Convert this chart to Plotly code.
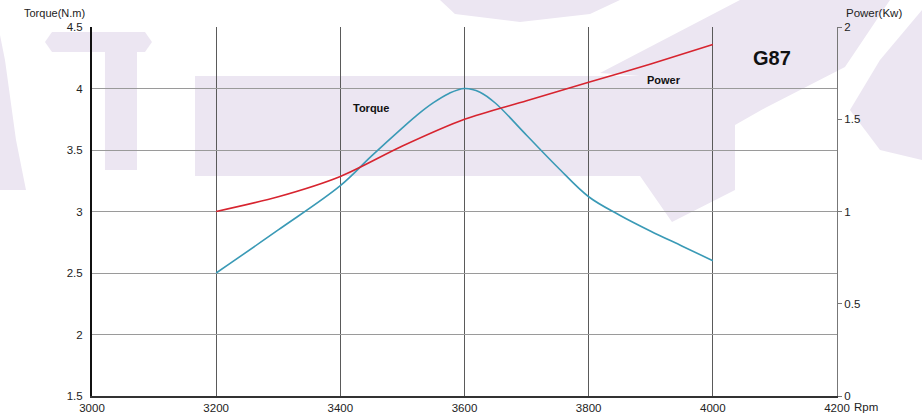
import plotly.graph_objects as go

# Engine curves for model G87
torque_rpm = [3200, 3300, 3400, 3450, 3500, 3525, 3550, 3575, 3600, 3625, 3650, 3700, 3750, 3800, 3850, 3900, 3950, 4000]
torque_nm = [2.50, 2.85, 3.21, 3.45, 3.68, 3.79, 3.885, 3.96, 4.00, 3.97, 3.88, 3.62, 3.36, 3.12, 2.97, 2.84, 2.72, 2.60]

power_rpm = [3200, 3300, 3400, 3500, 3600, 3700, 3800, 3900, 4000]
power_kw = [1.00, 1.08, 1.19, 1.355, 1.50, 1.60, 1.70, 1.80, 1.905]

x_ticks = [3000, 3200, 3400, 3600, 3800, 4000, 4200]
torque_ticks = [1.5, 2, 2.5, 3, 3.5, 4, 4.5]
power_ticks = [0, 0.5, 1, 1.5, 2]

W, H = 922, 416
L, R, T, B = 92, 85, 27, 20
FONT = "Arial, Liberation Sans, sans-serif"
LAV = "#ece6f2"


def px_to_paper(x, y):
    pw, ph = W - L - R, H - T - B
    return (x - L) / pw, (H - B - y) / ph


def poly(points):
    pts = [px_to_paper(x, y) for x, y in points]
    d = "M " + " L ".join(f"{a:.4f},{b:.4f}" for a, b in pts) + " Z"
    return dict(type="path", xref="paper", yref="paper", path=d,
                fillcolor=LAV, line=dict(width=0), layer="below")


# faint logo watermark behind the plot
backdrop = [
    poly([(0, 35), (5, 60), (16, 140), (26, 190), (0, 190)]),
    poly([(52, 32), (145, 32), (152, 42), (145, 52), (52, 52), (45, 42)]),
    poly([(105, 52), (137, 52), (137, 170), (105, 170)]),
    poly([(195, 76), (640, 76), (640, 176), (195, 176)]),
    poly([(600, 73), (740, 0), (890, 0), (845, 67), (765, 108), (735, 125),
          (735, 190), (672, 222), (640, 176), (640, 76)]),
    poly([(922, 10), (922, 160), (880, 150), (850, 110), (880, 60)]),
    poly([(440, 0), (620, 0), (590, 14), (520, 22), (455, 14)]),
]

fig = go.Figure()
fig.add_trace(go.Scatter(x=torque_rpm, y=torque_nm, mode="lines", name="Torque",
                         line=dict(color="#3a9ab6", width=1.6, shape="spline", smoothing=1.0),
                         yaxis="y"))
fig.add_trace(go.Scatter(x=power_rpm, y=power_kw, mode="lines", name="Power",
                         line=dict(color="#d7242f", width=1.6, shape="spline", smoothing=0.8),
                         yaxis="y2"))

fig.update_layout(
    width=W, height=H,
    margin=dict(l=L, r=R, t=T, b=B, pad=0, autoexpand=False),
    paper_bgcolor="white", plot_bgcolor="rgba(0,0,0,0)",
    showlegend=False,
    font=dict(family=FONT, size=11, color="#222"),
    shapes=backdrop,
    xaxis=dict(range=[3000, 4200], tickvals=x_ticks, ticktext=[str(v) for v in x_ticks],
               showgrid=True, gridcolor="#5a5a5a", gridwidth=1, automargin=False,
               showline=True, linecolor="#333", linewidth=2,
               ticks="", zeroline=False, tickfont=dict(size=11.5, color="#222")),
    yaxis=dict(range=[1.5, 4.5], tickvals=torque_ticks,
               ticktext=["1.5", "2", "2.5", "3", "3.5", "4", "4.5"],
               showgrid=True, gridcolor="#9a9a9a", gridwidth=1, automargin=False,
               showline=True, linecolor="#111", linewidth=2,
               ticks="outside", ticklen=5, tickcolor="rgba(0,0,0,0)",
               zeroline=False, tickfont=dict(size=11.5, color="#222")),
    yaxis2=dict(range=[0, 2], tickvals=power_ticks, ticktext=["0", "0.5", "1", "1.5", "2"],
                overlaying="y", side="right", showgrid=False, automargin=False,
                showline=True, linecolor="#777", linewidth=1,
                ticks="outside", ticklen=4, tickcolor="#777",
                zeroline=False, tickfont=dict(size=11.5, color="#222")),
)

fig.add_annotation(x=0.0, y=1.0, xref="paper", yref="paper", xshift=-5, yshift=6,
                   text="Torque(N.m)", showarrow=False, xanchor="right", yanchor="bottom",
                   font=dict(size=11, color="#222"))
fig.add_annotation(x=1.0, y=1.0, xref="paper", yref="paper", xshift=7, yshift=6,
                   text="Power(Kw)", showarrow=False, xanchor="left", yanchor="bottom",
                   font=dict(size=11.5, color="#222"))
fig.add_annotation(x=1.0, y=0.0, xref="paper", yref="paper", xshift=15, yshift=-3,
                   text="Rpm", showarrow=False, xanchor="left", yanchor="top",
                   font=dict(size=11.5, color="#222"))
fig.add_annotation(x=3450, y=3.84, xref="x", yref="y", text="<b>Torque</b>", showarrow=False,
                   font=dict(size=11, color="#111"))
fig.add_annotation(x=3922, y=1.715, xref="x", yref="y2", text="<b>Power</b>", showarrow=False,
                   font=dict(size=11, color="#111"))
fig.add_annotation(x=4095, y=4.25, xref="x", yref="y", text="<b>G87</b>", showarrow=False,
                   font=dict(size=20, color="#111"))

fig.write_html("out.html")
